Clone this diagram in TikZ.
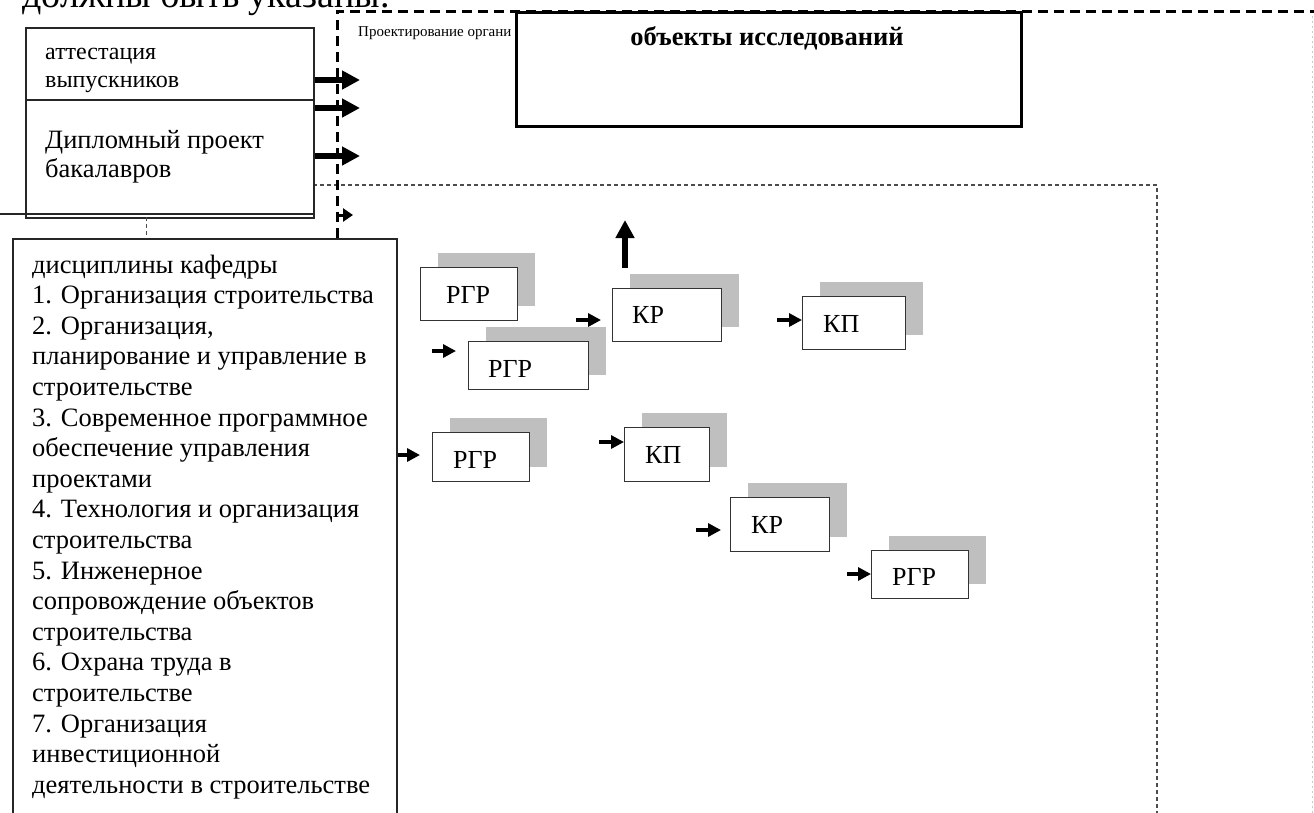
\documentclass[tikz,border=0pt]{standalone}
\usepackage{fontspec}
\setmainfont{Liberation Serif}
\usetikzlibrary{arrows.meta,shadows}
\begin{document}
\begin{tikzpicture}[x=1pt,y=-1pt,
  wbox/.style={draw=black!80, line width=1.3pt, fill=white, inner sep=0pt, anchor=north west,
    drop shadow={shadow xshift=17pt, shadow yshift=15pt, fill=black!25, opacity=1}},
  lbl/.style={anchor=base west, inner sep=0pt, font=\fontsize{26}{28}\selectfont},
  sarr/.style={line width=3.2pt, -{Triangle[length=13pt,width=13pt]}},
  barr/.style={line width=6.5pt, -{Triangle[length=18pt,width=18pt]}},
  earr/.style={line width=3pt, -{Triangle[length=10pt,width=13pt]}},
  thickdash/.style={line width=3pt, dash pattern=on 10pt off 6pt},
  dotline/.style={line width=1.2pt, black!70, dash pattern=on 4pt off 3pt},
  faint/.style={line width=0.8pt, black!20, dash pattern=on 2pt off 3pt},
  plainbox/.style={draw=black!85, line width=1.5pt, fill=white, inner sep=0pt, anchor=north west},
  txt/.style={anchor=base west, inner sep=0pt}
]
\useasboundingbox (0,0) rectangle (1314,812);

% cut-off heading text at the top
\node[txt, font=\fontsize{38}{38}\selectfont] (head) at (22,7) {должны быть указаны.};

% small caption partly hidden by the objects box
\node[txt, font=\fontsize{15}{15}\selectfont] (cap) at (358,36) {Проектирование органи};

% frames
\draw[dotline] (313,185) -- (1157,185) -- (1157,830);
\draw[faint] (1312,11) -- (1312,830);

% upper-left box
\node[plainbox, minimum width=288, minimum height=190] (tl) at (25,27) {};
\coordinate (dv) at (0,100);
\draw[line width=1.5pt, black!85] (dv -| tl.west) -- (dv -| tl.east);
\coordinate (lf) at (0,214);
\draw[line width=1.5pt, black!85] (lf) -- (lf -| tl.east);
\node[txt, font=\fontsize{24}{28}\selectfont] (att) at (45,59)
  {\begin{tabular}[t]{@{}l@{}}аттестация\\выпускников\end{tabular}};
\node[txt, font=\fontsize{26.5}{29}\selectfont] (dip) at (45,148)
  {\begin{tabular}[t]{@{}l@{}}Дипломный проект\\бакалавров\end{tabular}};

% list box
\node[plainbox, minimum width=384, minimum height=600] (lst) at (12,238) {};
\node[txt, font=\fontsize{26.5}{30.6}\selectfont] (lsttxt) at (32,273) {\begin{tabular}[t]{@{}l@{}}дисциплины кафедры\\
1. Организация строительства\\
2. Организация,\\
планирование и управление в\\
строительстве\\
3. Современное программное\\
обеспечение управления\\
проектами\\
4. Технология и организация\\
строительства\\
5. Инженерное\\
сопровождение объектов\\
строительства\\
6. Охрана труда в\\
строительстве\\
7. Организация\\
инвестиционной\\
деятельности в строительстве\end{tabular}};

\coordinate (d1) at (146,217);
\draw[line width=1pt, black!70, dash pattern=on 4pt off 3pt] (d1) -- (d1 |- lst.north);

% thick dashed frame
\coordinate (fr) at (337,11);
\draw[thickdash] (fr |- lst.north) -- (fr) -- (1320,11);

% objects box
\node[plainbox, draw=black, line width=3pt, minimum width=505, minimum height=114] (obj) at (515,11) {};
\node[anchor=base, inner sep=0pt, font=\fontsize{26.5}{26.5}\selectfont\bfseries] (objtxt) at (767,45) {объекты исследований};

% big arrows from upper-left box
\coordinate (b1) at (360,80);
\coordinate (b2) at (360,108);
\coordinate (b3) at (360,156);
\draw[barr] (b1 -| tl.east) -- (b1);
\draw[barr] (b2 -| tl.east) -- (b2);
\draw[barr] (b3 -| tl.east) -- (b3);
\coordinate (e0) at (337,222);
\coordinate (e1) at (353,215);
\draw[earr] (e0) -- (e0 |- e1) -- (e1);

% shadowed boxes
\node[wbox, minimum width=97,  minimum height=53] (r1) at (420,267) {};
\node[wbox, minimum width=120, minimum height=48] (r2) at (468,341) {};
\node[wbox, minimum width=109, minimum height=53] (k1) at (612,288) {};
\node[wbox, minimum width=103, minimum height=53] (p1) at (802,296) {};
\node[wbox, minimum width=97,  minimum height=49] (r3) at (432,432) {};
\node[wbox, minimum width=85,  minimum height=54] (p2) at (624,427) {};
\node[wbox, minimum width=99,  minimum height=54] (k2) at (730,497) {};
\node[wbox, minimum width=97,  minimum height=48] (r4) at (871,550) {};

\node[lbl] (tr1) at (446,303) {РГР};
\node[lbl] (tr2) at (488,377) {РГР};
\node[lbl] (tk1) at (632,323) {КР};
\node[lbl] (tp1) at (823,332) {КП};
\node[lbl] (tr3) at (453,468) {РГР};
\node[lbl] (tp2) at (645,463) {КП};
\node[lbl] (tk2) at (751,533) {КР};
\node[lbl] (tr4) at (892,585) {РГР};

% small arrows
\coordinate (a2) at (432,351);
\draw[sarr, shorten >=12pt] (a2) -- (a2 -| r2.west);
\coordinate (a3) at (576,320);
\draw[sarr, shorten >=11pt] (a3) -- (a3 -| k1.west);
\coordinate (a4) at (777,320);
\draw[sarr] (a4) -- (a4 -| p1.west);
\coordinate (a5) at (0,455);
\draw[sarr, shorten >=12pt] (a5 -| lst.east) -- (a5 -| r3.west);
\coordinate (a6) at (599,442);
\draw[sarr] (a6) -- (a6 -| p2.west);
\coordinate (a7) at (696,530);
\draw[sarr, shorten >=9pt] (a7) -- (a7 -| k2.west);
\coordinate (a8) at (847,574);
\draw[sarr] (a8) -- (a8 -| r4.west);

% upward arrow
\coordinate (u0) at (625,268);
\coordinate (u1) at (625,220);
\draw[barr] (u0) -- (u1);
\end{tikzpicture}
\end{document}
